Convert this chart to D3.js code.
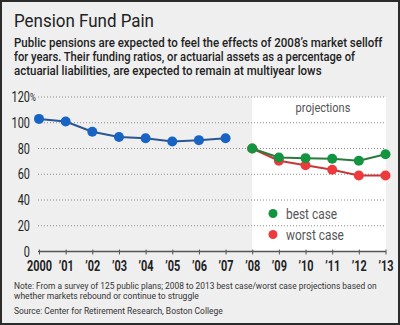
<!DOCTYPE html>
<html>
<head>
<meta charset="utf-8">
<script src="https://cdnjs.cloudflare.com/ajax/libs/d3/7.8.5/d3.min.js"></script>
<style>
  body { margin: 0; background: #fff; }
  svg { display: block; }
  text { font-family: Roboto, "Noto Sans", sans-serif; }
</style>
</head>
<body>
<div id="chart"></div>
<script>
let width = 400;
let height = 325;

// data
let histYears = [2000, 2001, 2002, 2003, 2004, 2005, 2006, 2007];
let histValues = [103, 101, 93, 89, 88, 85.5, 86.5, 88];
let projYears = [2008, 2009, 2010, 2011, 2012, 2013];
let bestCase = [80, 73, 72.5, 72, 70.5, 75.5];
let worstCase = [80, 70.5, 67, 63.5, 59, 59];
let yTicks = [0, 20, 40, 60, 80, 100, 120];
let xLabels = ["2000", "\u201901", "\u201902", "\u201903", "\u201904", "\u201905", "\u201906", "\u201907", "\u201908", "\u201909", "\u201910", "\u201911", "\u201912", "\u201913"];

let titleText = "Pension Fund Pain";
let subLines = [
  "Public pensions are expected to feel the effects of 2008\u2019s market selloff",
  "for years. Their funding ratios, or actuarial assets as a percentage of",
  "actuarial liabilities, are expected to remain at multiyear lows"
];
let noteLines = [
  "Note: From a survey of 125 public plans; 2008 to 2013 best case/worst case projections based on",
  "whether markets rebound or continue to struggle"
];
let sourceText = "Source: Center for Retirement Research, Boston College";

let svg = d3.select("#chart")
  .append("svg")
  .attr("width", width)
  .attr("height", height);

// the original uses a condensed face; squeeze horizontally
function narrow(parent, x, y, anchor, sx, size, str) {
  return parent.append("text")
    .attr("transform", "translate(" + x + "," + y + ") scale(" + sx + ",1)")
    .attr("text-anchor", anchor)
    .attr("font-size", size)
    .text(str);
}

// squeeze a left-aligned line to a measured width
function fitLine(x, y, target, size, weight, color, str) {
  let t = svg.append("text")
    .attr("font-size", size)
    .attr("font-weight", weight)
    .attr("fill", color)
    .text(str);
  let len = t.node().getComputedTextLength();
  t.attr("transform", "translate(" + x + "," + y + ") scale(" + (target / len) + ",1)");
  return t;
}

// background + frame
svg.append("rect")
  .attr("x", 1).attr("y", 1)
  .attr("width", width - 2).attr("height", height - 2)
  .attr("fill", "#efefef")
  .attr("stroke", "#2b2b2b")
  .attr("stroke-width", 2);

let xScale = d3.scaleLinear().domain([2000, 2013]).range([39, 385.5]);
let yScale = d3.scaleLinear().domain([0, 120]).range([251.5, 97]);

// projections panel
svg.append("rect")
  .attr("x", xScale(2008))
  .attr("y", yScale(120))
  .attr("width", 386 - xScale(2008))
  .attr("height", yScale(0) - yScale(120))
  .attr("fill", "#ffffff");

// title block
fitLine(14, 27, 140, 18.5, "normal", "#222", titleText);

let subWidths = [369, 341, 308];
subLines.forEach(function(line, i) {
  fitLine(14, 47 + i * 14, subWidths[i], 12.5, "500", "#222", line);
});

// gridlines
svg.append("g")
  .selectAll("line")
  .data(yTicks.filter(function(d) { return d > 0; }))
  .enter()
  .append("line")
  .attr("x1", 38).attr("x2", 386)
  .attr("y1", function(d) { return yScale(d); })
  .attr("y2", function(d) { return yScale(d); })
  .attr("stroke", "#8a8a8a")
  .attr("stroke-width", 1)
  .attr("stroke-dasharray", "1,2");

// y labels
let yLab = svg.append("g").attr("fill", "#222");
yTicks.forEach(function(d) {
  narrow(yLab, 30, yScale(d) + 5, "end", 0.78, 14, d);
});
narrow(yLab, 30, yScale(120) + 4, "start", 0.8, 10, "%");

// x axis
let xAxis = d3.axisBottom(xScale)
  .tickValues(d3.range(2000, 2014))
  .tickSize(3)
  .tickFormat(function(d, i) { return xLabels[i]; });

let gx = svg.append("g")
  .attr("transform", "translate(0," + yScale(0) + ")")
  .call(xAxis);
gx.attr("font-family", null);
gx.select(".domain").attr("stroke", "#555").attr("stroke-width", 1.5).attr("d", "M38,0H386");
gx.selectAll(".tick line").attr("stroke", "#555").attr("y1", -2);
gx.selectAll(".tick text")
  .attr("font-size", 14)
  .attr("font-weight", "bold")
  .attr("fill", "#222")
  .attr("y", 0)
  .attr("dy", 0)
  .attr("transform", "translate(0,19) scale(0.78,1)");

// lines
let line = d3.line()
  .x(function(d) { return xScale(d[0]); })
  .y(function(d) { return yScale(d[1]); });

function series(years, vals, lineColor, dotColor) {
  let pts = years.map(function(y, i) { return [y, vals[i]]; });
  svg.append("path")
    .datum(pts)
    .attr("d", line)
    .attr("fill", "none")
    .attr("stroke", lineColor)
    .attr("stroke-width", 2);
  svg.append("g")
    .selectAll("circle")
    .data(pts)
    .enter()
    .append("circle")
    .attr("cx", function(d) { return xScale(d[0]); })
    .attr("cy", function(d) { return yScale(d[1]); })
    .attr("r", 5)
    .attr("fill", dotColor);
}

series(histYears, histValues, "#2a5694", "#1764c4");
series(projYears, worstCase, "#c9363a", "#ee3a3d");
series(projYears, bestCase, "#2a7b3c", "#129440");

// panel labels
narrow(svg, 323, 112, "middle", 0.85, 13, "projections").attr("fill", "#555");

let legend = [["best case", "#129440", 213.5], ["worst case", "#ee3a3d", 234.5]];
legend.forEach(function(l) {
  svg.append("circle")
    .attr("cx", 273).attr("cy", l[2]).attr("r", 4.5)
    .attr("fill", l[1]);
  narrow(svg, 286, l[2] + 5, "start", 0.85, 14, l[0]).attr("fill", "#555");
});

// notes
let noteWidths = [363, 185];
noteLines.forEach(function(t, i) {
  fitLine(14, 288.5 + i * 10.5, noteWidths[i], 9.3, "normal", "#333", t);
});
fitLine(14, 314, 209, 9.5, "normal", "#333", sourceText);
</script>
</body>
</html>
